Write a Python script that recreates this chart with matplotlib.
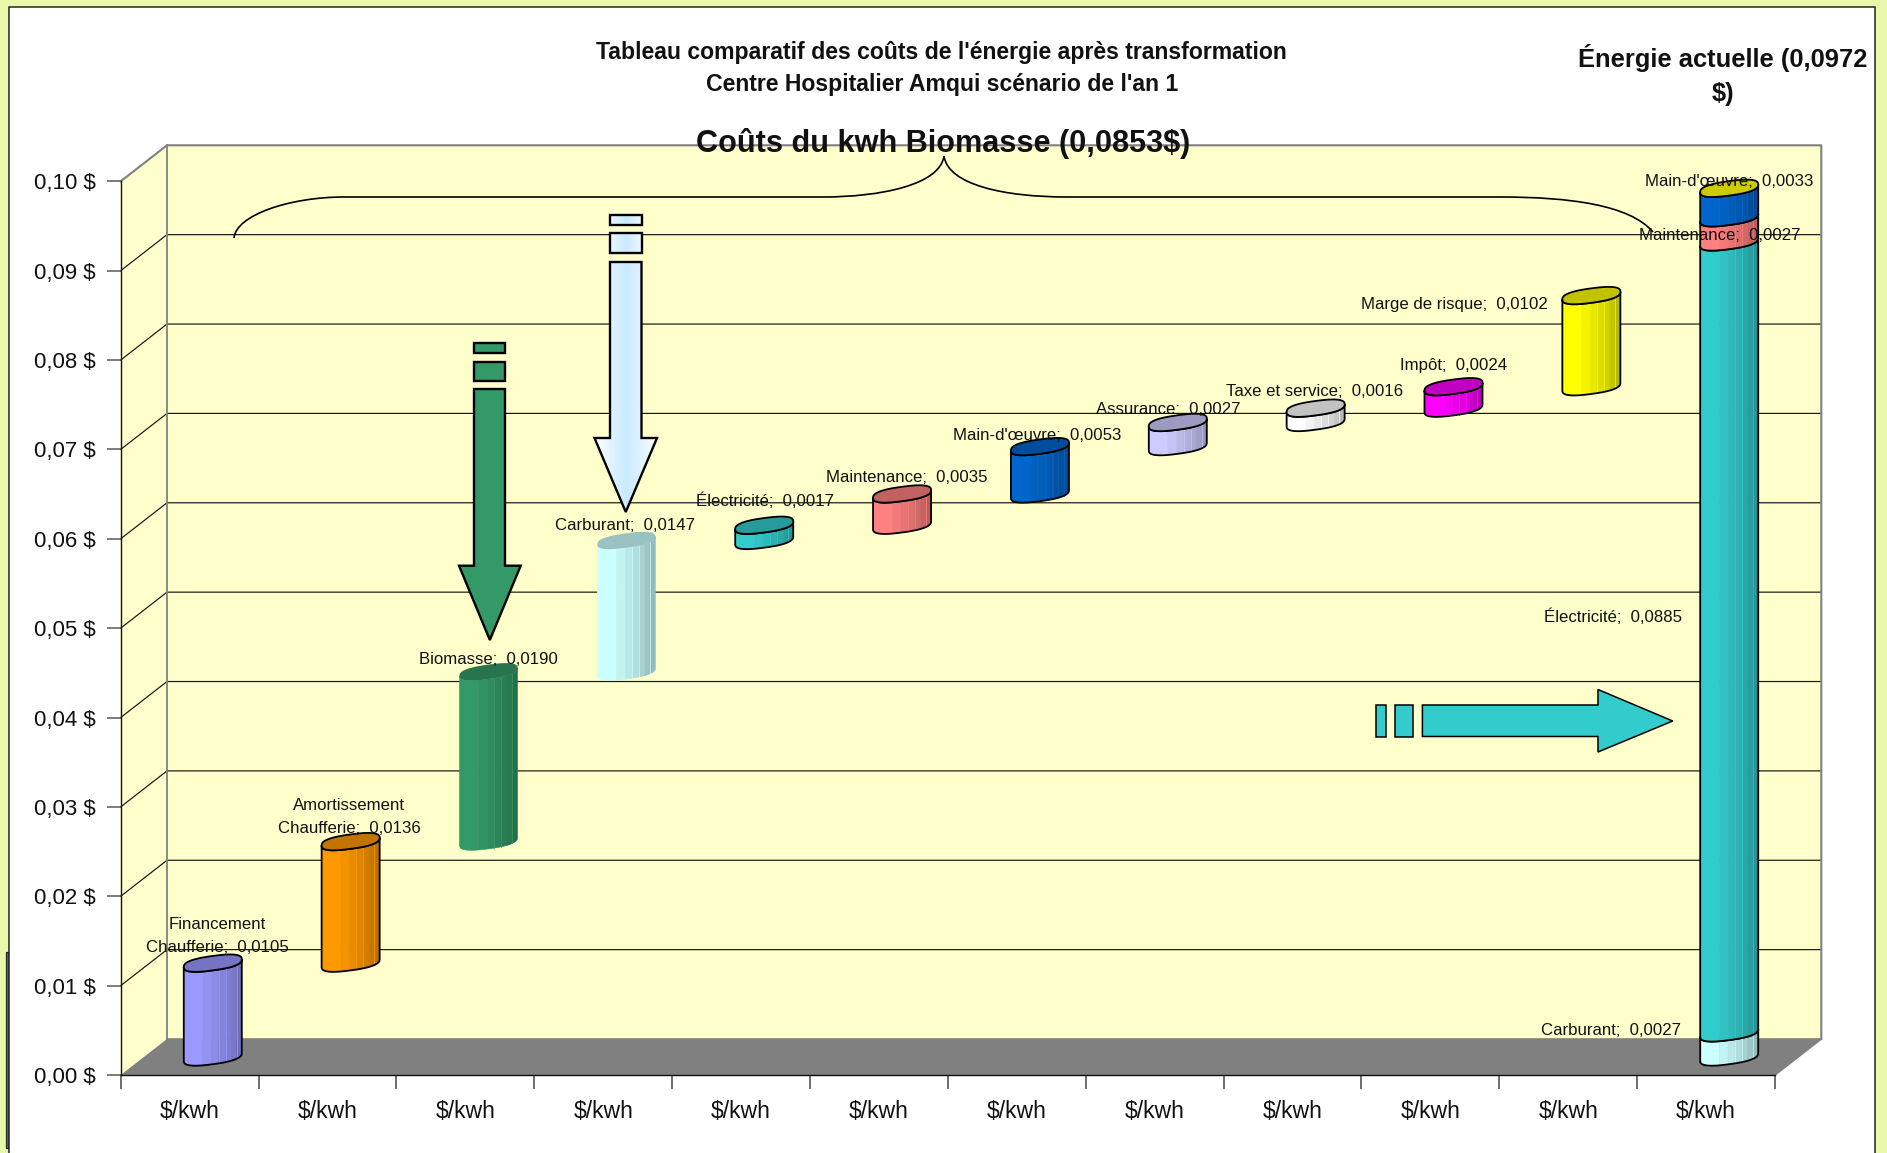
import numpy as np
import matplotlib
matplotlib.use("Agg")
import matplotlib.pyplot as plt
from matplotlib.patches import Polygon, Rectangle, PathPatch
from matplotlib.path import Path
from matplotlib.transforms import Affine2D

plt.rcParams['font.family'] = ['Liberation Sans', 'DejaVu Sans']

# Cost items of the waterfall (each floats on the sum of the previous ones)
step_values = [0.0105, 0.0136, 0.0190, 0.0147, 0.0017, 0.0035, 0.0053, 0.0027, 0.0016, 0.0024, 0.0102]
step_colors = ['#9999FF', '#FF9900', '#339966', '#CCFFFF', '#33CCCC', '#FF8080',
               '#0066CC', '#CCCCFF', '#FFFFFF', '#FF00FF', '#FFFF00']
step_outlined = [True, True, False, False, True, True, True, True, True, True, True]
step_labels = ["Financement\nChaufferie;  0,0105", "Amortissement\nChaufferie;  0,0136",
               "Biomasse;  0,0190", "Carburant;  0,0147", "Électricité;  0,0017",
               "Maintenance;  0,0035", "Main-d'œuvre;  0,0053", "Assurance;  0,0027",
               "Taxe et service;  0,0016", "Impôt;  0,0024", "Marge de risque;  0,0102"]

# Stacked column for the current energy source
stack_values = [0.0027, 0.0885, 0.0027, 0.0033]
stack_colors = ['#CCFFFF', '#33CCCC', '#FF8080', '#0066CC']
stack_labels = ["Carburant;  0,0027", "Électricité;  0,0885", "Maintenance;  0,0027", "Main-d'œuvre;  0,0033"]

y_ticks = [0.00, 0.01, 0.02, 0.03, 0.04, 0.05, 0.06, 0.07, 0.08, 0.09, 0.10]
x_tick_label = "$/kwh"
n_categories = 12

W, H = 1887, 1153
fig = plt.figure(figsize=(W / 100, H / 100), dpi=100, facecolor='#E9F7AB')

# The axes rectangle is the front plane of the 3-D box
left, right, y_zero, y_top = 120.7, 1775.0, 1075.0, 181.3
ax = fig.add_axes([left / W, 1 - y_zero / H, (right - left) / W, (y_zero - y_top) / H])
ax.patch.set_visible(False)
px = Affine2D().scale(1, -1).translate(0, H)  # pixel coordinates, origin top left

X_UNIT = (right - left) / n_categories
Y_UNIT = (y_zero - y_top) / 0.10
DX, DY = 46.3 / X_UNIT, 36.0 / Y_UNIT  # box depth in data units

# Page frame
ax.add_patch(Rectangle((5.5, 952), 3, 196, transform=px, fc='#6E6A4E', ec='#1C2A24', lw=0.9, zorder=0.1, clip_on=False))
ax.add_patch(Rectangle((8.5, 6.5), 1866, 1160, transform=px, fc='white', ec='#222222', lw=1.1, zorder=0.2, clip_on=False))

# Box: back wall, side wall, floor
WALL = '#FFFFCC'
ax.add_patch(Polygon([(DX, DY), (n_categories + DX, DY), (n_categories + DX, 0.1 + DY), (DX, 0.1 + DY)],
                     fc=WALL, ec='none', zorder=0.5, clip_on=False))
ax.add_patch(Polygon([(0, 0), (DX, DY), (DX, 0.1 + DY), (0, 0.1)], fc=WALL, ec='none', zorder=0.5, clip_on=False))
ax.add_patch(Polygon([(0, 0), (n_categories, 0), (n_categories + DX, DY), (DX, DY)],
                     fc='#808080', ec='none', zorder=0.6, clip_on=False))

for v in y_ticks[1:-1]:
    ax.plot([0, DX, n_categories + DX], [v, v + DY, v + DY], color='#141414', lw=0.85, zorder=1, clip_on=False)
ax.plot([0, DX, n_categories + DX, n_categories + DX], [0.1, 0.1 + DY, 0.1 + DY, DY],
        color='#808080', lw=1.5, zorder=1, clip_on=False)
ax.plot([DX, DX], [DY, 0.1 + DY], color='#808080', lw=1.3, zorder=1, clip_on=False)
ax.plot([DX, n_categories + DX, n_categories], [DY, DY, 0], color='#808080', lw=1.2, zorder=1, clip_on=False)

# Axes
ax.set_xlim(0, n_categories)
ax.set_ylim(0, 0.10)
for s in ('top', 'right'):
    ax.spines[s].set_visible(False)
for s in ('left', 'bottom'):
    ax.spines[s].set_linewidth(1.0)
    ax.spines[s].set_color('#111111')
ax.set_yticks(y_ticks)
ax.set_yticklabels([f"{v:.2f} $".replace('.', ',') for v in y_ticks], fontsize=16.0, color='#111111')
ax.tick_params(axis='y', length=10, width=1.2, color='#666666', pad=8)
ax.set_xticks(np.arange(n_categories + 1))
ax.set_xticklabels([])
ax.set_xticks(np.arange(n_categories) + 0.5, minor=True)
ax.set_xticklabels([x_tick_label] * n_categories, minor=True, fontsize=16.6, color='#111111')
ax.tick_params(axis='x', which='major', length=10, width=1.2, color='#555555')
ax.tick_params(axis='x', which='minor', length=0, pad=18)

# Cylinder geometry
A = 29.0 / X_UNIT
B = 7.2 / Y_UNIT
TILT = 0.134 * X_UNIT / Y_UNIT
P = 0.78
FACETS = [0, .33, .48, .60, .72, .82, .91, 1]
HIGHLIGHTS = [.60, .72, .91]
CAP_SHADE = 0.76


def shade(color, f):
    return tuple(c * f for c in matplotlib.colors.to_rgb(color))


def rim_front(u):
    """Height offset of the front rim of a tilted cap, u in [-1, 1]."""
    return -B * (1 - np.abs(u) ** (2 / P)) ** (P / 2) + TILT * A * u


def rim_back(u):
    return B * (1 - np.abs(u) ** (2 / P)) ** (P / 2) + TILT * A * u


def cylinder(i, v0, v1, color, outlined, cap=None, z=3):
    xc = i + 0.5 + DX / 2
    base = DY / 2
    edge = 'black' if outlined else 'none'
    for k in range(len(FACETS) - 1):
        u = np.linspace(-1 + 2 * FACETS[k], -1 + 2 * FACETS[k + 1], 30)
        f = 1 - 0.27 * k / (len(FACETS) - 2)
        xs = np.r_[xc + A * u, xc + A * u[::-1]]
        ys = np.r_[v1 + base + rim_front(u), v0 + base + rim_front(u[::-1])]
        ax.add_patch(Polygon(np.c_[xs, ys], fc=shade(color, f), ec=shade(color, f), lw=0.4, zorder=z, clip_on=False))
    for frac in HIGHLIGHTS:
        u0 = -1 + 2 * frac
        ax.plot([xc + A * u0] * 2, [v0 + base + rim_front(np.array(u0)), v1 + base + rim_front(np.array(u0))],
                color=shade(color, 1.0), lw=0.7, alpha=0.7, zorder=z + 0.01, clip_on=False)
    # Cosine spacing keeps the ends of the rim rounded
    u = -np.cos(np.linspace(0, np.pi, 120))
    xs = np.r_[xc + A * u, xc + A * u[::-1]]
    ys = np.r_[v1 + base + rim_front(u), v0 + base + rim_front(u[::-1])]
    ax.add_patch(Polygon(np.c_[xs, ys], fc='none', ec=edge, lw=1.3, zorder=z + 0.02, clip_on=False))
    if cap is not None:
        ys = np.r_[v1 + base + rim_front(u), v1 + base + rim_back(u[::-1])]
        ax.add_patch(Polygon(np.c_[xs, ys], fc=cap, ec=edge, lw=1.3, zorder=z + 0.03, clip_on=False))


step_tops = np.cumsum(step_values)
step_bases = np.r_[0, step_tops[:-1]]
for i, (v0, v1, c, o) in enumerate(zip(step_bases, step_tops, step_colors, step_outlined)):
    cylinder(i, v0, v1, c, o, cap=shade(c, CAP_SHADE))

stack_tops = np.cumsum(stack_values)
stack_bases = np.r_[0, stack_tops[:-1]]
for j, (v0, v1, c) in enumerate(zip(stack_bases, stack_tops, stack_colors)):
    cylinder(n_categories - 1, v0, v1, c, True, cap='#CCCC00' if j == len(stack_values) - 1 else None,
             z=3 + j * 0.1)

# Data labels
LABEL_PT = 12.1
step_anchor = [(217, 936), (349, 817), (488, 659.5), (624.7, 526), (765.5, 501), (907, 477.5),
               (1037, 435.5), (1168.5, 410), (1315, 391), (1454, 365.5), (1454, 304.5)]
for (x, y), s in zip(step_anchor, step_labels):
    ax.text(x, y, s, transform=px, ha='center', va='center', fontsize=LABEL_PT, linespacing=1.6,
            color='#111111', zorder=6, clip_on=False)
stack_anchor = [(1611, 1030.5), (1613, 617), (1720, 235), (1729, 181)]
for (x, y), s in zip(stack_anchor, stack_labels):
    ax.text(x, y, s, transform=px, ha='center', va='center', fontsize=LABEL_PT, color='#111111', zorder=6, clip_on=False)


# Annotation arrows
def outline(points, fc, lw, z):
    ax.add_patch(Polygon(points, closed=True, transform=px, fc=fc, ec='black', lw=lw, joinstyle='miter', zorder=z, clip_on=False))


def down_arrow(x0, x1, hx0, hx1, top, shoulder, tip, blocks, fc=None):
    xm = (hx0 + hx1) / 2
    shape = [(x0, top), (x1, top), (x1, shoulder), (hx1, shoulder), (xm, tip), (hx0, shoulder), (x0, shoulder)]
    rects = [[(x0, a), (x1, a), (x1, b), (x0, b)] for a, b in blocks]
    for pts in [shape] + rects:
        if fc is not None:
            outline(pts, fc, 1.7, 4)
        else:
            # Sideways gradient: pale blue along the centre, white towards the edges
            clip = Polygon(pts, closed=True, transform=px, fc='none', ec='none', zorder=4, clip_on=False)
            ax.add_patch(clip)
            t = np.abs(np.linspace(-1, 1, 128))
            v = np.clip(t / 0.95, 0, 1) ** 1.3
            rgb = np.stack([1 - 0.20 * (1 - v), 1 - 0.08 * (1 - v), np.ones_like(v)], axis=1)[None, :, :]
            ys = [p[1] for p in pts]
            lo, hi = (hx0, hx1) if len(pts) > 4 else (x0 - 6, x1 + 6)
            im = ax.imshow(rgb, extent=(lo, hi, max(ys), min(ys)), transform=px, aspect='auto', zorder=4, interpolation='bilinear')
            im.set_clip_path(clip)
            outline(pts, 'none', 1.7, 4.01)


down_arrow(474, 505, 459, 520.7, 389, 565.7, 640, [(343, 353), (362, 381)], fc='#339966')
down_arrow(610, 641.5, 594.5, 657, 262, 438, 512, [(215, 225), (233, 253)])

CYAN = '#33CCCC'
outline([(1422.4, 705), (1598, 705), (1598, 689.5), (1672.7, 721), (1598, 752), (1598, 736.5), (1422.4, 736.5)], CYAN, 1.1, 4)
outline([(1375.5, 705), (1386, 705), (1386, 736.5), (1375.5, 736.5)], CYAN, 1.1, 4)
outline([(1394.8, 705), (1412.8, 705), (1412.8, 736.5), (1394.8, 736.5)], CYAN, 1.1, 4)

# Brace over the biomass items
C, L = Path.CURVE4, Path.LINETO
brace = Path([(234, 238), (236, 215), (290, 197), (344, 197), (823, 197), (880, 197), (940, 185), (944, 156),
              (948, 185), (1005, 197), (1067, 197), (1500, 197), (1570, 197), (1630, 205), (1653, 232)],
             [Path.MOVETO, C, C, C, L, C, C, C, C, C, C, L, C, C, C])
ax.add_patch(PathPatch(brace, transform=px, fc='none', ec='black', lw=1.2, zorder=2, clip_on=False))

# Headings
ax.text(941.7, 53, "Tableau comparatif des coûts de l'énergie après transformation", transform=px,
        ha='center', va='center', fontsize=16.6, fontweight='bold', color='#111111', zorder=6)
ax.text(941.7, 84.5, "Centre Hospitalier Amqui scénario de l'an 1", transform=px,
        ha='center', va='center', fontsize=16.6, fontweight='bold', color='#111111', zorder=6)
ax.text(943, 143.5, "Coûts du kwh Biomasse (0,0853$)", transform=px,
        ha='center', va='center', fontsize=22.1, fontweight='bold', color='#111111', zorder=6)
ax.text(1723, 75, "Énergie actuelle (0,0972\n$)", transform=px, ha='center', va='center',
        fontsize=18.4, fontweight='bold', linespacing=1.55, color='#111111', zorder=6)

ax.set_xlim(0, n_categories)
ax.set_ylim(0, 0.10)
fig.savefig("out.png", dpi=100, facecolor=fig.get_facecolor())
